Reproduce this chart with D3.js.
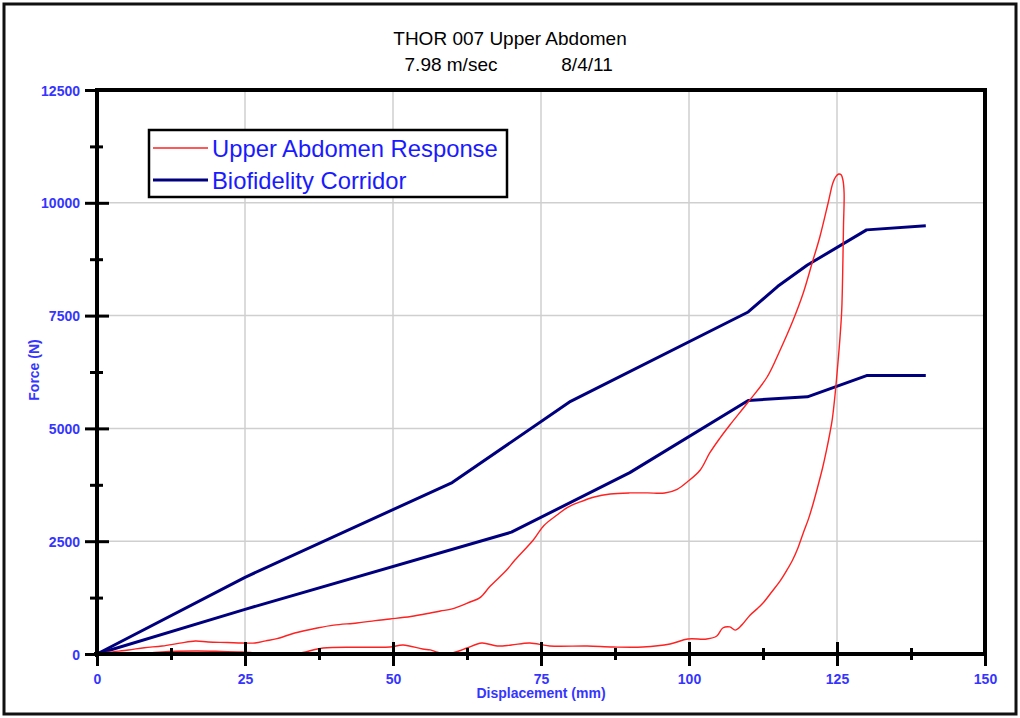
<!DOCTYPE html>
<html>
<head>
<meta charset="utf-8">
<script src="https://cdn.jsdelivr.net/npm/d3@7"></script>
<style>
  html, body { margin: 0; padding: 0; background: #fff; }
  svg { display: block; }
  text { font-family: "Liberation Sans", Arial, sans-serif; }
</style>
</head>
<body>
<svg id="chart" width="1020" height="718"></svg>
<script>
// ---- data ----
const titleLines = ["THOR 007 Upper Abdomen"];
const subtitleLeft = "7.98 m/sec";
const subtitleRight = "8/4/11";
const xLabel = "Displacement (mm)";
const yLabel = "Force (N)";
const xTicks = [0, 25, 50, 75, 100, 125, 150];
const yTicks = [0, 2500, 5000, 7500, 10000, 12500];
const legendLabels = ["Upper Abdomen Response", "Biofidelity Corridor"];

// Biofidelity corridor bounds (displacement mm, force N)
const corridorUpperX = [0, 25, 60, 80, 110, 115, 120, 130, 140];
const corridorUpperY = [0, 1700, 3800, 5600, 7580, 8150, 8620, 9400, 9490];
const corridorLowerX = [0, 25, 70, 90, 110, 120, 130, 140];
const corridorLowerY = [0, 990, 2700, 4020, 5620, 5700, 6170, 6170];

// Measured response: loading then unloading path
const responseX = [0, 2, 5.3, 8, 11, 14, 16.6, 18.8, 22, 24.5, 26.7, 28.5, 30.4, 33.4, 37.2, 40, 43.9, 47, 49.5, 53,
  56.3, 58, 60, 63, 64.7, 66.4, 69.2, 70.6, 73.7, 75.5, 77.7, 79.5, 81.6, 84, 86.7, 90, 93, 95.9, 98, 99.7,
  101.9, 103.5, 105.2, 106.9, 110, 113.2, 115.4, 117.6, 119.3, 120.8, 122.1, 123.5, 124.3, 124.8, 125.3, 125.7,
  126, 126.2, 126.1, 126, 125.8, 125.5, 125.2, 124.7, 124.2, 123.8, 123.2, 122.6, 121.6, 121, 120.2, 119.3,
  118.4, 117.5, 116.5, 115.4, 114, 112.5, 111.5, 110.3, 108.9, 107.8, 106.9, 105.7, 104.7, 103, 99.8, 96.8,
  92.2, 87.2, 82.8, 76.5, 73.1, 70, 67.6, 65, 62.5, 61, 59, 57.5, 56.3, 55, 51.7, 49.5, 45, 38.2, 35, 33.4,
  28.9, 24.5, 20, 16.6, 11, 8.1];
const responseY = [0, 40, 89, 140, 177, 240, 288, 266, 255, 244, 244, 290, 340, 465, 576, 640, 687, 740, 776, 830,
  908, 953, 1000, 1152, 1250, 1500, 1862, 2083, 2527, 2850, 3080, 3250, 3370, 3480, 3546, 3570, 3570, 3568, 3650, 3812,
  4078, 4455, 4780, 5075, 5585, 6139, 6738, 7402, 8000, 8665, 9242, 9996, 10439, 10580, 10638, 10620,
  10505, 10217, 9500, 8732, 7624, 7000, 6516, 5785, 5200, 4898, 4500, 4145, 3635, 3347, 3000, 2682,
  2350, 2083, 1850, 1620, 1380, 1130, 1000, 860, 640, 530, 600, 576, 400, 332, 332, 222,
  155, 155, 177, 177, 244, 200, 177, 244, 133, 60, 0, 40, 90, 110, 200, 155, 150, 133, 40, 0,
  0, 44, 60, 66, 44, 10];

// ---- layout ----
const svg = d3.select("#chart");
const plot = { left: 97, right: 985, top: 90, bottom: 654 };
const tickBlue = "#3535ff";
const navy = "#00007f";
const red = "#ff2020";

const x = d3.scaleLinear().domain([0, 150]).range([plot.left, plot.right]);
const y = d3.scaleLinear().domain([0, 12500]).range([plot.bottom, plot.top]);

// outer frame
svg.append("rect")
  .attr("x", 4).attr("y", 4).attr("width", 1012).attr("height", 710)
  .attr("fill", "none").attr("stroke", "#111").attr("stroke-width", 3);

// title
svg.append("text")
  .attr("x", 510).attr("y", 45).attr("text-anchor", "middle")
  .attr("font-size", 19).attr("fill", "#000")
  .text(titleLines[0]);
svg.append("text")
  .attr("x", 451).attr("y", 71).attr("text-anchor", "middle")
  .attr("font-size", 19).attr("fill", "#000")
  .text(subtitleLeft);
svg.append("text")
  .attr("x", 587).attr("y", 71).attr("text-anchor", "middle")
  .attr("font-size", 19).attr("fill", "#000")
  .text(subtitleRight);

// grid
const grid = svg.append("g").attr("stroke", "#cfcfcf").attr("stroke-width", 1.5);
grid.selectAll("line.gx").data(xTicks.filter(d => d > 0 && d < 150)).join("line")
  .attr("x1", d => x(d)).attr("x2", d => x(d))
  .attr("y1", plot.top).attr("y2", plot.bottom);
grid.selectAll("line.gy").data(yTicks.filter(d => d > 0 && d < 12500)).join("line")
  .attr("x1", plot.left).attr("x2", plot.right)
  .attr("y1", d => y(d)).attr("y2", d => y(d));

// plot box: top and right borders
svg.append("path")
  .attr("d", `M${plot.left},${plot.top}H${plot.right}V${plot.bottom}`)
  .attr("fill", "none").attr("stroke", "#000").attr("stroke-width", 4);

// corridor and response lines
const lineGen = d3.line().x(d => x(d[0])).y(d => y(d[1]));
const smoothGen = d3.line().x(d => x(d[0])).y(d => y(d[1])).curve(d3.curveCatmullRom.alpha(0.5));
const upper = d3.zip(corridorUpperX, corridorUpperY);
const lower = d3.zip(corridorLowerX, corridorLowerY);
const response = d3.zip(responseX, responseY);

svg.append("path").datum(upper).attr("d", lineGen)
  .attr("fill", "none").attr("stroke", navy).attr("stroke-width", 3).attr("stroke-linejoin", "round");
svg.append("path").datum(lower).attr("d", lineGen)
  .attr("fill", "none").attr("stroke", navy).attr("stroke-width", 3).attr("stroke-linejoin", "round");
svg.append("path").datum(response).attr("d", smoothGen)
  .attr("fill", "none").attr("stroke", red).attr("stroke-width", 1.4).attr("stroke-linejoin", "round");

// x axis (ticks cross the axis line)
const xAxis = d3.axisBottom(x)
  .tickValues(d3.range(0, 150.1, 12.5))
  .tickSize(0)
  .tickFormat("");
const gx = svg.append("g").attr("transform", `translate(0,${plot.bottom})`).call(xAxis);
gx.select(".domain").remove();
gx.selectAll(".tick line")
  .attr("y1", d => (d % 25 === 0 ? -12 : -6))
  .attr("y2", d => (d % 25 === 0 ? 12 : 6))
  .attr("stroke", "#000").attr("stroke-width", 3);
gx.selectAll(".tick").filter(d => d % 25 === 0).append("text")
  .attr("y", 30).attr("text-anchor", "middle")
  .attr("font-size", 14).attr("font-weight", "bold").attr("fill", tickBlue)
  .text(d => d);

// y axis
const yAxis = d3.axisLeft(y)
  .tickValues(d3.range(0, 12501, 1250))
  .tickSize(0)
  .tickFormat("");
const gy = svg.append("g").attr("transform", `translate(${plot.left},0)`).call(yAxis);
gy.select(".domain").remove();
gy.selectAll(".tick line")
  .attr("x1", d => (d % 2500 === 0 ? -12 : -7))
  .attr("x2", d => (d % 2500 === 0 ? 12 : 6))
  .attr("stroke", "#000").attr("stroke-width", 3);
gy.selectAll(".tick").filter(d => d % 2500 === 0).append("text")
  .attr("x", -17).attr("dy", "0.36em").attr("text-anchor", "end")
  .attr("font-size", 14).attr("font-weight", "bold").attr("fill", tickBlue)
  .text(d => d);

// axis lines
svg.append("line")
  .attr("x1", plot.left - 3).attr("x2", plot.right)
  .attr("y1", plot.bottom).attr("y2", plot.bottom)
  .attr("stroke", "#000").attr("stroke-width", 4);
svg.append("line")
  .attr("x1", plot.left).attr("x2", plot.left)
  .attr("y1", plot.top - 2).attr("y2", plot.bottom + 3)
  .attr("stroke", "#000").attr("stroke-width", 4);

// axis titles
svg.append("text")
  .attr("x", 541).attr("y", 698)
  .attr("text-anchor", "middle").attr("font-size", 14).attr("font-weight", "bold")
  .attr("fill", tickBlue).text(xLabel);
svg.append("text")
  .attr("transform", `translate(39,370) rotate(-90)`)
  .attr("text-anchor", "middle").attr("font-size", 14).attr("font-weight", "bold")
  .attr("fill", tickBlue).text(yLabel);

// legend
const legend = svg.append("g");
legend.append("rect")
  .attr("x", 149).attr("y", 130).attr("width", 358).attr("height", 67)
  .attr("fill", "#fff").attr("stroke", "#000").attr("stroke-width", 2.5);
const legendColors = [red, navy];
const legendWidths = [1.4, 3];
legendLabels.forEach((label, i) => {
  const cy = 148 + i * 32;
  legend.append("line")
    .attr("x1", 153).attr("x2", 208).attr("y1", cy).attr("y2", cy)
    .attr("stroke", legendColors[i]).attr("stroke-width", legendWidths[i]);
  legend.append("text")
    .attr("x", 212).attr("y", cy).attr("dy", "0.36em")
    .attr("font-size", 23.8).attr("fill", "#1a1aff")
    .text(label);
});
</script>
</body>
</html>
